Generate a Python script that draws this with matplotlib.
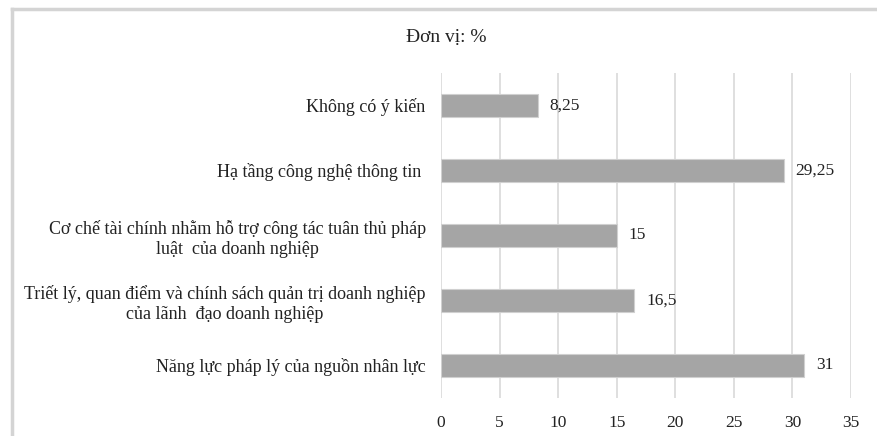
import matplotlib
matplotlib.use("Agg")
import matplotlib.pyplot as plt
from matplotlib.lines import Line2D

categories = [
    "Không có ý kiến",
    "Hạ tầng công nghệ thông tin ",
    "Cơ chế tài chính nhằm hỗ trợ công tác tuân thủ pháp\nluật  của doanh nghiệp",
    "Triết lý, quan điểm và chính sách quản trị doanh nghiệp\ncủa lãnh  đạo doanh nghiệp",
    "Năng lực pháp lý của nguồn nhân lực",
]
values = [8.25, 29.25, 15, 16.5, 31]
ticks = [0, 5, 10, 15, 20, 25, 30, 35]

plt.rcParams["font.family"] = ["Liberation Serif", "DejaVu Serif"]

fig = plt.figure(figsize=(8.78, 4.36), dpi=100)
ax = fig.add_axes([0.5023, 0.0872, 0.4669, 0.7454])

pos = list(range(len(categories)))[::-1]
ax.barh(pos, values, height=0.34, color="#a5a5a5", edgecolor="#d0d0d0", linewidth=0.8, zorder=3)

for p, v in zip(pos, values):
    txt = f"{v:g}".replace(".", ",")
    ax.text(v + 1.0, p, txt, va="center", ha="left", fontsize=12.5, color="#222222")

ax.set_xlim(0, 35)
ax.set_ylim(-0.5, 4.5)
ax.set_xticks(ticks)
ax.set_xticklabels([str(t) for t in ticks], fontsize=12.5, color="#222222")
ax.set_yticks(pos)
ax.set_yticklabels(categories, fontsize=13, color="#222222", multialignment="center")
ax.tick_params(axis="both", length=0)
ax.tick_params(axis="x", pad=12)
ax.tick_params(axis="y", pad=11)
ax.grid(axis="x", color="#d9d9d9", linewidth=1.2, zorder=0)
for s in ax.spines.values():
    s.set_visible(False)

fig.text(0.5085, 0.913, "Đơn vị: %", ha="center", va="center", fontsize=14, color="#222222")

# outer frame (left and top edges only visible)
fig.add_artist(Line2D([0.0137, 0.0137], [0, 0.979], transform=fig.transFigure, color="#d4d4d4", linewidth=2.5))
fig.add_artist(Line2D([0.0137, 1.0], [0.979, 0.979], transform=fig.transFigure, color="#d4d4d4", linewidth=2.5))

fig.savefig("out.png", dpi=100, facecolor="white")
